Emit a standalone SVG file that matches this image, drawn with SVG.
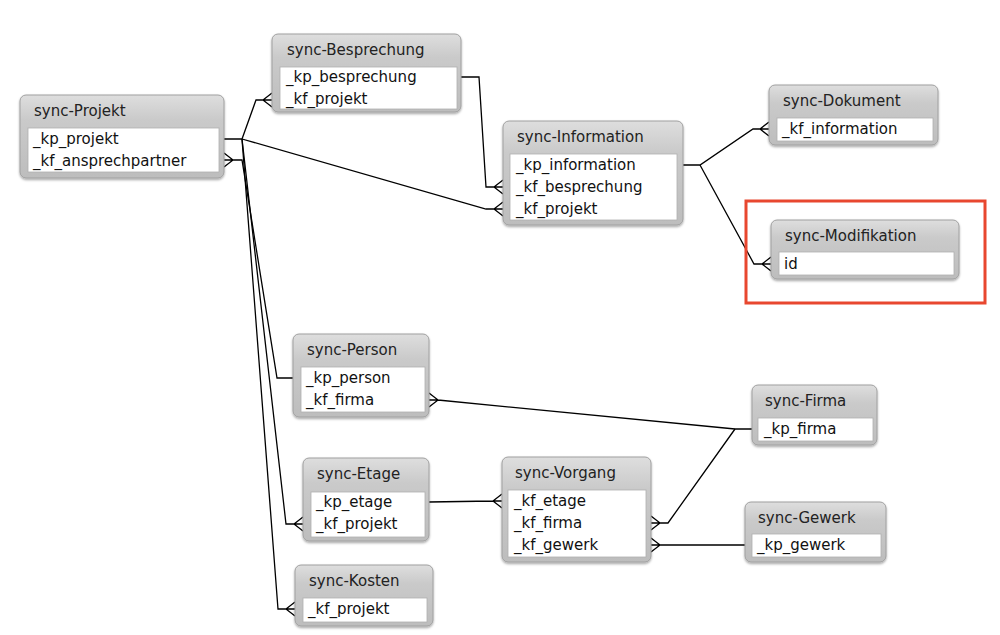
<svg xmlns="http://www.w3.org/2000/svg" width="1000" height="635" viewBox="0 0 1000 635">
<defs>
<linearGradient id="hdr" x1="0" y1="0" x2="0" y2="1">
<stop offset="0" stop-color="#dedede"/>
<stop offset="0.3" stop-color="#cacaca"/>
<stop offset="1" stop-color="#bdbdbd"/>
</linearGradient>
<filter id="sh" x="-10%" y="-10%" width="120%" height="130%">
<feDropShadow dx="0" dy="1.5" stdDeviation="1.2" flood-color="#000" flood-opacity="0.35"/>
</filter>
</defs>
<style>
.box{fill:url(#hdr);stroke:#a0a0a0;stroke-width:1;filter:url(#sh)}
.fld{fill:#ffffff;stroke:#b0b0b0;stroke-width:0.8}
.t{font-family:"DejaVu Sans",sans-serif;font-size:15px;fill:#222}
.f{font-family:"DejaVu Sans",sans-serif;font-size:15px;fill:#111}
.c{fill:none;stroke:#000;stroke-width:1.3;stroke-linejoin:miter}
.hl{fill:none;stroke:#e8472f;stroke-width:3}
</style>
<rect width="1000" height="635" fill="#ffffff"/>

<g id="connectors">
<path class="c" d="M224,139 H242 L256,100 H272 M263,100 L272,93 M263,100 L272,107"/>
<path class="c" d="M242,139 L486,209 H503 M494,209 L503,202 M494,209 L503,216"/>
<path class="c" d="M461,77 H479 L486,187 H503 M494,187 L503,180 M494,187 L503,194"/>
<path class="c" d="M683,165 H700 L753,129 H769 M760,129 L769,122 M760,129 L769,136"/>
<path class="c" d="M700,165 L754,264 H771 M762,264 L771,257 M762,264 L771,271"/>
<path class="c" d="M293,378 H277 L242,160 H224 M233,160 L224,153 M233,160 L224,167"/>
<path class="c" d="M242,139 L286,524 H303 M294,524 L303,517 M294,524 L303,531"/>
<path class="c" d="M242,139 L278,609 H295 M286,609 L295,602 M286,609 L295,616"/>
<path class="c" d="M752,429 H735 L438,400 H429 M438,400 L429,393 M438,400 L429,407"/>
<path class="c" d="M735,429 L668,523 H651 M660,523 L651,516 M660,523 L651,530"/>
<path class="c" d="M745,545 H651 M660,545 L651,538 M660,545 L651,552"/>
<path class="c" d="M429,502 L493,501 H502 M493,501 L502,494 M493,501 L502,508"/>
</g>

<g id="sync-Projekt" transform="translate(20,95)">
<rect class="box" width="204" height="83" rx="6"/>
<rect class="fld" x="8" y="33" width="191" height="44"/>
<text class="t" x="14" y="21">sync-Projekt</text>
<text class="f" x="13" y="49">_kp_projekt</text>
<text class="f" x="13" y="71">_kf_ansprechpartner</text>
</g>

<g id="sync-Besprechung" transform="translate(272,34)">
<rect class="box" width="189" height="78" rx="6"/>
<rect class="fld" x="8" y="33" width="177" height="42"/>
<text class="t" x="15" y="21">sync-Besprechung</text>
<text class="f" x="14" y="48">_kp_besprechung</text>
<text class="f" x="14" y="70">_kf_projekt</text>
</g>

<g id="sync-Information" transform="translate(503,121)">
<rect class="box" width="180" height="104" rx="6"/>
<rect class="fld" x="7" y="33" width="167" height="66"/>
<text class="t" x="14" y="21">sync-Information</text>
<text class="f" x="13" y="49">_kp_information</text>
<text class="f" x="13" y="71">_kf_besprechung</text>
<text class="f" x="13" y="93">_kf_projekt</text>
</g>

<g id="sync-Dokument" transform="translate(769,85)">
<rect class="box" width="169" height="60" rx="6"/>
<rect class="fld" x="8" y="33" width="156" height="23"/>
<text class="t" x="14" y="21">sync-Dokument</text>
<text class="f" x="13" y="49">_kf_information</text>
</g>

<g id="sync-Modifikation" transform="translate(771,220)">
<rect class="box" width="188" height="59" rx="6"/>
<rect class="fld" x="8" y="32" width="175" height="23"/>
<text class="t" x="14" y="21">sync-Modifikation</text>
<text class="f" x="13" y="49">id</text>
</g>

<g id="sync-Person" transform="translate(293,334)">
<rect class="box" width="136" height="83" rx="6"/>
<rect class="fld" x="8" y="33" width="124" height="45"/>
<text class="t" x="14" y="21">sync-Person</text>
<text class="f" x="13" y="49">_kp_person</text>
<text class="f" x="13" y="71">_kf_firma</text>
</g>

<g id="sync-Etage" transform="translate(303,458)">
<rect class="box" width="126" height="83" rx="6"/>
<rect class="fld" x="8" y="34" width="114" height="45"/>
<text class="t" x="14" y="21">sync-Etage</text>
<text class="f" x="13" y="49">_kp_etage</text>
<text class="f" x="13" y="71">_kf_projekt</text>
</g>

<g id="sync-Vorgang" transform="translate(502,457)">
<rect class="box" width="149" height="105" rx="6"/>
<rect class="fld" x="6" y="33" width="138" height="67"/>
<text class="t" x="13" y="21">sync-Vorgang</text>
<text class="f" x="12" y="49">_kf_etage</text>
<text class="f" x="12" y="71">_kf_firma</text>
<text class="f" x="12" y="93">_kf_gewerk</text>
</g>

<g id="sync-Kosten" transform="translate(295,565)">
<rect class="box" width="138" height="61" rx="6"/>
<rect class="fld" x="8" y="33" width="124" height="24"/>
<text class="t" x="14" y="21">sync-Kosten</text>
<text class="f" x="13" y="49">_kf_projekt</text>
</g>

<g id="sync-Firma" transform="translate(752,385)">
<rect class="box" width="125" height="60" rx="6"/>
<rect class="fld" x="6" y="33" width="115" height="23"/>
<text class="t" x="13" y="21">sync-Firma</text>
<text class="f" x="12" y="49">_kp_firma</text>
</g>

<g id="sync-Gewerk" transform="translate(745,502)">
<rect class="box" width="141" height="60" rx="6"/>
<rect class="fld" x="7" y="32" width="129" height="23"/>
<text class="t" x="13" y="21">sync-Gewerk</text>
<text class="f" x="12" y="48">_kp_gewerk</text>
</g>

<g id="highlight">
<rect class="hl" x="746" y="201" width="239" height="102"/>
</g>
</svg>
